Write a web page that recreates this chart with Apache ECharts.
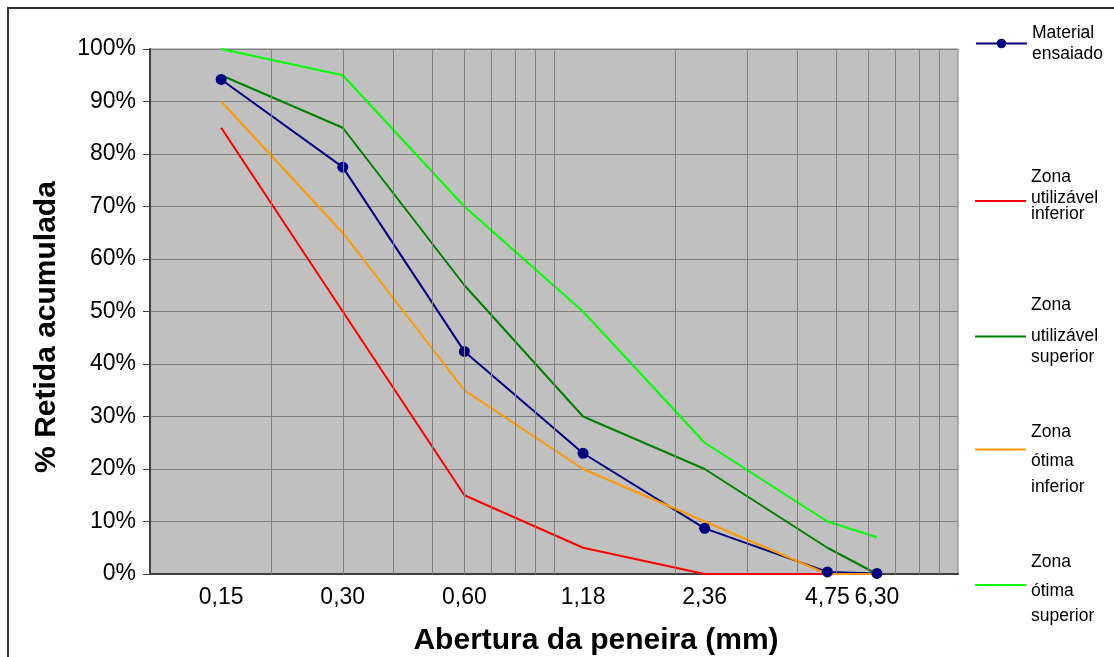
<!DOCTYPE html>
<html>
<head>
<meta charset="utf-8">
<script src="https://cdn.jsdelivr.net/npm/echarts@6/dist/echarts.min.js"></script>
<style>
  html, body { margin: 0; padding: 0; background: #fff; }
  #chart { width: 1114px; height: 657px; }
</style>
</head>
<body>
<div id="chart"></div>
<script>
// Aberturas das peneiras (mm) e porcentagens retidas acumuladas
const aberturas = [0.15, 0.30, 0.60, 1.18, 2.36, 4.75, 6.30];
const materialEnsaiado   = [94.2, 77.5, 42.4, 23.0, 8.7, 0.4, 0.1];
const utilizavelInferior = [85, 50, 15, 5, 0, 0, 0];
const utilizavelSuperior = [95, 85, 55, 30, 20, 5, 0];
const otimaInferior      = [90, 65, 35, 20, 10, 0, 0];
const otimaSuperior      = [100, 95, 70, 50, 25, 10, 7];

// Rótulos do eixo X (um por peneira)
const rotulosX = ['0,15', '0,30', '0,60', '1,18', '2,36', '4,75', '6,30'];

// Linhas de grade verticais da escala logarítmica
const gradeLog = [0.2, 0.3, 0.4, 0.5, 0.6, 0.7, 0.8, 0.9, 1, 2, 3, 4, 5, 6, 7, 8, 9];

const FONT = '"Liberation Sans", Arial, Helvetica, sans-serif';
const FONT_LEGENDA = 17.5;

const pares = ys => aberturas.map((x, i) => [x, ys[i]]);

function serie(nome, ys, cor, comMarcador) {
  return {
    name: nome,
    type: 'line',
    data: pares(ys),
    z: 3,
    symbol: comMarcador ? 'circle' : 'none',
    symbolSize: 11,
    showSymbol: comMarcador,
    itemStyle: { color: cor },
    lineStyle: { color: cor, width: 2 },
    emphasis: { disabled: true }
  };
}

// Uma legenda por série; cada linha do texto recebe sua própria altura
// para que o bloco de texto fique na posição desejada em relação ao ícone.
function legenda(nome, centroIcone, centrosLinhas, comMarcador, ajuste) {
  const linhas = nome.split('\n');
  const c = centrosLinhas.map(v => v + 1);
  let h;
  if (linhas.length === 2) {
    const g = c[1] - c[0];
    h = [g, g];
  } else {
    const g1 = c[1] - c[0], g2 = c[2] - c[1];
    const m = Math.min(g1, g2);
    h = [2 * g1 - m, m, 2 * g2 - m];
  }
  const topo = c[0] - h[0] / 2;
  const base = c[c.length - 1] + h[h.length - 1] / 2;
  const acima = centroIcone - topo;
  const abaixo = base - centroIcone;
  const espTopo = Math.max(0, abaixo - acima);
  const espBase = Math.max(0, acima - abaixo);
  const alturaTotal = base - topo + espTopo + espBase;

  const rich = {
    esp0: { fontSize: 1, lineHeight: Math.max(espTopo, 0.01) },
    esp1: { fontSize: 1, lineHeight: Math.max(espBase, 0.01) }
  };
  linhas.forEach((_, i) => {
    rich['l' + i] = { fontFamily: FONT, fontSize: FONT_LEGENDA, color: '#000', lineHeight: h[i] };
  });

  const partes = [];
  if (espTopo > 0.5) partes.push('{esp0| }');
  linhas.forEach((t, i) => partes.push('{l' + i + '|' + t + '}'));
  if (espBase > 0.5) partes.push('{esp1| }');
  const texto = partes.join('\n');

  const alturaItem = comMarcador ? 12 : 2;
  return {
    data: [comMarcador ? { name: nome } : { name: nome, icon: 'rect' }],
    left: 975,
    top: centroIcone - alturaTotal / 2 + ajuste,
    orient: 'vertical',
    padding: 0,
    itemWidth: 51,
    itemHeight: alturaItem,
    itemGap: 0,
    selectedMode: false,
    formatter: () => texto,
    textStyle: { fontFamily: FONT, fontSize: FONT_LEGENDA, color: '#000', rich }
  };
}

const nomes = {
  material: 'Material\nensaiado',
  uInf: 'Zona\nutilizável\ninferior',
  uSup: 'Zona\nutilizável\nsuperior',
  oInf: 'Zona\nótima\ninferior',
  oSup: 'Zona\nótima\nsuperior'
};

const chart = echarts.init(document.getElementById('chart'), null, { renderer: 'canvas' });

chart.setOption({
  animation: false,
  backgroundColor: '#fff',
  grid: {
    left: 150, right: 156, top: 49, bottom: 83,
    show: true,
    backgroundColor: '#C0C0C0',
    borderColor: '#808080',
    borderWidth: 1
  },
  xAxis: {
    type: 'log',
    logBase: 10,
    min: 0.1,
    max: 10,
    axisLine: { show: true, onZero: false, lineStyle: { color: '#404040', width: 2 } },
    axisTick: { show: false },
    splitLine: { show: false },
    minorTick: { show: false },
    axisLabel: {
      customValues: aberturas,
      formatter: v => {
        const i = aberturas.findIndex(a => Math.abs(a - v) < 1e-6);
        return i >= 0 ? rotulosX[i] : '';
      },
      fontFamily: FONT,
      fontSize: 23,
      color: '#000',
      margin: 12
    }
  },
  yAxis: {
    type: 'value',
    min: 0,
    max: 100,
    interval: 10,
    axisLine: { show: true, lineStyle: { color: '#404040', width: 2 } },
    axisTick: { show: true, length: 7, lineStyle: { color: '#404040', width: 1 } },
    splitLine: { show: true, lineStyle: { color: '#808080', width: 1 } },
    axisLabel: {
      formatter: '{value}%',
      fontFamily: FONT,
      fontSize: 23,
      color: '#000',
      margin: 14
    }
  },
  legend: [
    legenda(nomes.material, 43, [31.5, 52.5], true, 2),
    legenda(nomes.uInf, 201, [176.5, 197.5, 213.5], false, 4),
    legenda(nomes.uSup, 336, [303.5, 334.5, 355.5], false, 12),
    legenda(nomes.oInf, 449, [430.5, 459.5, 486], false, 9),
    legenda(nomes.oSup, 584, [560, 589.5, 614], false, 2)
  ],
  graphic: [
    {
      type: 'rect',
      silent: true,
      z: 100,
      shape: { x: 8, y: 8, width: 1200, height: 700 },
      style: { fill: 'none', stroke: '#333', lineWidth: 2 }
    },
    {
      type: 'text',
      x: 596,
      y: 641,
      style: {
        text: 'Abertura da peneira (mm)',
        font: 'bold 30px ' + FONT,
        fill: '#000',
        textAlign: 'center',
        textVerticalAlign: 'middle'
      }
    },
    {
      type: 'text',
      x: 47,
      y: 327,
      rotation: Math.PI / 2,
      style: {
        text: '% Retida acumulada',
        font: 'bold 30px ' + FONT,
        fill: '#000',
        textAlign: 'center',
        textVerticalAlign: 'middle'
      }
    }
  ],
  series: [
    {
      name: 'grade',
      type: 'line',
      data: [],
      z: 1,
      silent: true,
      markLine: {
        silent: true,
        symbol: ['none', 'none'],
        label: { show: false },
        emphasis: { disabled: true },
        lineStyle: { color: '#808080', width: 1, type: 'solid' },
        data: gradeLog.map(v => ({ xAxis: v }))
      }
    },
    serie(nomes.material, materialEnsaiado, '#000080', true),
    serie(nomes.uInf, utilizavelInferior, '#FF0000', false),
    serie(nomes.uSup, utilizavelSuperior, '#008000', false),
    serie(nomes.oInf, otimaInferior, '#FF9900', false),
    serie(nomes.oSup, otimaSuperior, '#00FF00', false)
  ]
});
</script>
</body>
</html>
